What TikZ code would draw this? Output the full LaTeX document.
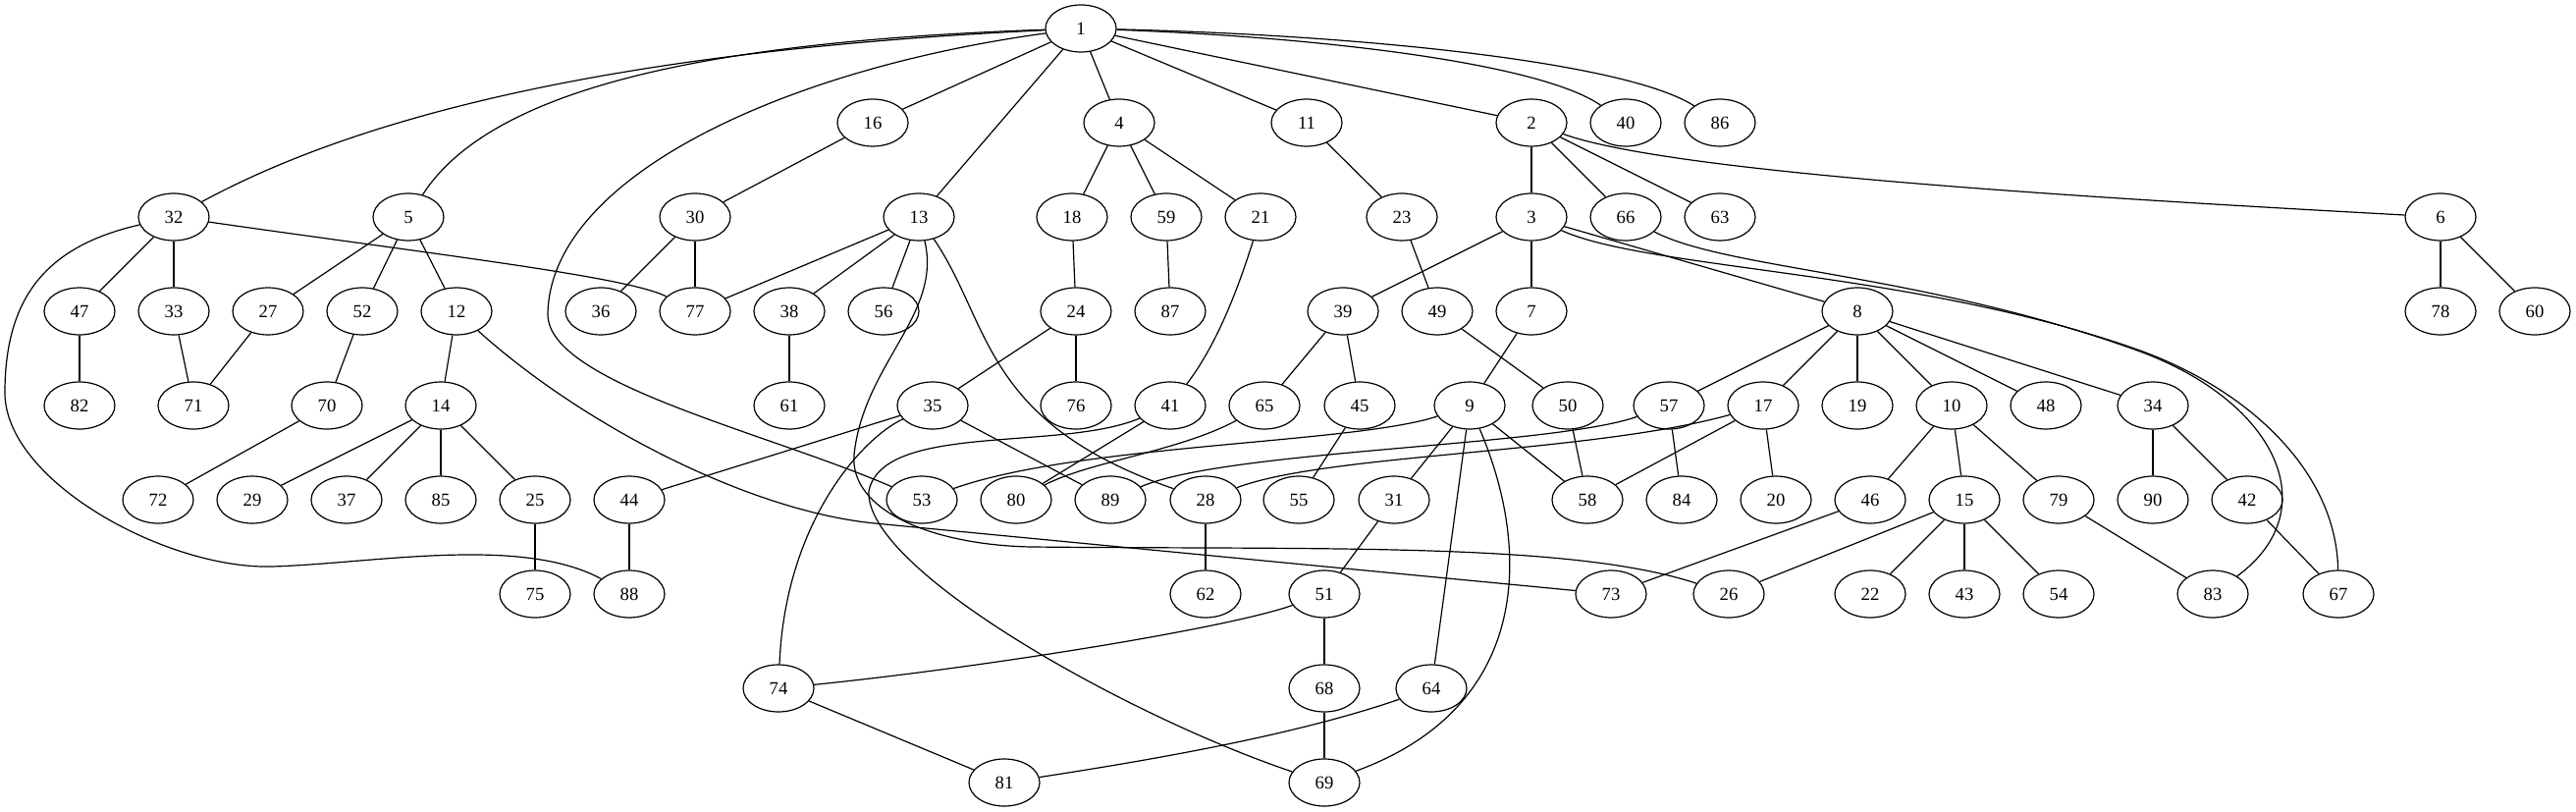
\documentclass[tikz,border=0pt]{standalone}
\usepackage{fontspec}
\setmainfont{Liberation Serif}
\usetikzlibrary{shapes.geometric}
\begin{document}
\begin{tikzpicture}[x=0.75pt,y=-0.75pt,
  gnode/.style={ellipse,draw,line width=0.9pt,minimum width=54pt,minimum height=36pt,inner sep=0pt,font=\fontsize{14}{16}\selectfont},
  edge/.style={line width=0.9pt}]
\useasboundingbox (0,0) rectangle (2624,827);
% row 0
\node[gnode] (n1) at (1101,29) {1};
% row 1
\node[gnode] (n16) at (889,125) {16};
\node[gnode] (n4) at (1140,125) {4};
\node[gnode] (n11) at (1331,125) {11};
\node[gnode] (n2) at (1560,125) {2};
\node[gnode] (n40) at (1656,125) {40};
\node[gnode] (n86) at (1752,125) {86};
% row 2
\node[gnode] (n32) at (177,221) {32};
\node[gnode] (n5) at (416,221) {5};
\node[gnode] (n30) at (708,221) {30};
\node[gnode] (n13) at (936,221) {13};
\node[gnode] (n18) at (1092,221) {18};
\node[gnode] (n59) at (1188,221) {59};
\node[gnode] (n21) at (1284,221) {21};
\node[gnode] (n23) at (1428,221) {23};
\node[gnode] (n3) at (1560,221) {3};
\node[gnode] (n66) at (1656,221) {66};
\node[gnode] (n63) at (1752,221) {63};
\node[gnode] (n6) at (2486,221) {6};
% row 3
\node[gnode] (n47) at (81,317) {47};
\node[gnode] (n33) at (177,317) {33};
\node[gnode] (n27) at (273,317) {27};
\node[gnode] (n52) at (369,317) {52};
\node[gnode] (n12) at (465,317) {12};
\node[gnode] (n36) at (612,317) {36};
\node[gnode] (n77) at (708,317) {77};
\node[gnode] (n38) at (804,317) {38};
\node[gnode] (n56) at (900,317) {56};
\node[gnode] (n24) at (1096,317) {24};
\node[gnode] (n87) at (1192,317) {87};
\node[gnode] (n39) at (1368,317) {39};
\node[gnode] (n49) at (1464,317) {49};
\node[gnode] (n7) at (1560,317) {7};
\node[gnode] (n8) at (1892,317) {8};
\node[gnode] (n78) at (2486,317) {78};
\node[gnode] (n60) at (2582,317) {60};
% row 4
\node[gnode] (n82) at (81,413) {82};
\node[gnode] (n71) at (197,413) {71};
\node[gnode] (n70) at (333,413) {70};
\node[gnode] (n14) at (449,413) {14};
\node[gnode] (n61) at (804,413) {61};
\node[gnode] (n35) at (950,413) {35};
\node[gnode] (n76) at (1096,413) {76};
\node[gnode] (n41) at (1192,413) {41};
\node[gnode] (n65) at (1288,413) {65};
\node[gnode] (n45) at (1385,413) {45};
\node[gnode] (n9) at (1497,413) {9};
\node[gnode] (n50) at (1597,413) {50};
\node[gnode] (n57) at (1700,413) {57};
\node[gnode] (n17) at (1796,413) {17};
\node[gnode] (n19) at (1892,413) {19};
\node[gnode] (n10) at (1988,413) {10};
\node[gnode] (n48) at (2084,413) {48};
\node[gnode] (n34) at (2193,413) {34};
% row 5
\node[gnode] (n72) at (161,509) {72};
\node[gnode] (n29) at (257,509) {29};
\node[gnode] (n37) at (353,509) {37};
\node[gnode] (n85) at (449,509) {85};
\node[gnode] (n25) at (545,509) {25};
\node[gnode] (n44) at (641,509) {44};
\node[gnode] (n53) at (939,509) {53};
\node[gnode] (n80) at (1035,509) {80};
\node[gnode] (n89) at (1131,509) {89};
\node[gnode] (n28) at (1228,509) {28};
\node[gnode] (n55) at (1323,509) {55};
\node[gnode] (n31) at (1420,509) {31};
\node[gnode] (n58) at (1617,509) {58};
\node[gnode] (n84) at (1713,509) {84};
\node[gnode] (n20) at (1809,509) {20};
\node[gnode] (n46) at (1905,509) {46};
\node[gnode] (n15) at (2001,509) {15};
\node[gnode] (n79) at (2097,509) {79};
\node[gnode] (n90) at (2193,509) {90};
\node[gnode] (n42) at (2289,509) {42};
% row 6
\node[gnode] (n75) at (545,605) {75};
\node[gnode] (n88) at (641,605) {88};
\node[gnode] (n62) at (1228,605) {62};
\node[gnode] (n51) at (1349,605) {51};
\node[gnode] (n73) at (1641,605) {73};
\node[gnode] (n26) at (1761,605) {26};
\node[gnode] (n22) at (1905,605) {22};
\node[gnode] (n43) at (2001,605) {43};
\node[gnode] (n54) at (2097,605) {54};
\node[gnode] (n83) at (2254,605) {83};
\node[gnode] (n67) at (2382,605) {67};
% row 7
\node[gnode] (n74) at (793,701) {74};
\node[gnode] (n68) at (1349,701) {68};
\node[gnode] (n64) at (1458,701) {64};
% row 8
\node[gnode] (n81) at (1023,797) {81};
\node[gnode] (n69) at (1349,797) {69};

% straight edges
\foreach \a/\b in {1/16,1/13,1/4,1/11,1/2,2/3,2/66,2/63,3/39,3/7,3/8,4/18,4/59,4/21,
  5/27,5/52,5/12,6/78,6/60,7/9,8/57,8/17,8/19,8/10,8/48,8/34,9/31,9/58,9/64,
  10/46,10/15,10/79,11/23,12/14,13/77,13/38,13/56,14/29,14/37,14/85,14/25,
  15/26,15/22,15/43,15/54,16/30,17/58,17/20,18/24,23/49,24/35,24/76,25/75,
  27/71,28/62,30/36,30/77,31/51,32/47,32/33,33/71,34/90,34/42,35/44,35/89,
  38/61,39/65,39/45,41/80,42/67,44/88,45/55,46/73,47/82,49/50,50/58,51/68,
  52/70,57/84,59/87,68/69,70/72,74/81,79/83}
  \draw[edge] (n\a) -- (n\b);

% curved edges
\draw[edge] (n1) .. controls (700,48) and (400,100) .. (n32);
\draw[edge] (n1) .. controls (720,42) and (500,90) .. (n5);
\draw[edge] (n1) .. controls (800,70) and (560,180) .. (558,320) .. controls (558,390) and (780,440) .. (n53);
\draw[edge] (n1) .. controls (1350,38) and (1570,65) .. (n40);
\draw[edge] (n1) .. controls (1400,36) and (1660,65) .. (n86);
\draw[edge] (n2) .. controls (1700,175) and (2100,200) .. (n6);
\draw[edge] (n3) .. controls (1680,275) and (1950,275) .. (2180,357) .. controls (2290,397) and (2380,480) .. (n67);
\draw[edge] (n66) .. controls (1760,275) and (1960,278) .. (2180,358) .. controls (2320,410) and (2370,520) .. (n83);
\draw[edge] (n32) .. controls (450,260) and (640,282) .. (n77);
\draw[edge] (n32) .. controls (50,250) and (5,300) .. (5,400) .. controls (5,490) and (170,580) .. (277,577) .. controls (380,574) and (530,545) .. (n88);
\draw[edge] (n12) .. controls (590,430) and (760,520) .. (891,533) -- (n73);
\draw[edge] (n13) .. controls (960,320) and (880,370) .. (870,463) .. controls (865,520) and (950,555) .. (1050,557) .. controls (1350,560) and (1600,552) .. (n26);
\draw[edge] (n13) .. controls (1010,330) and (1000,430) .. (n28);
\draw[edge] (n35) .. controls (880,445) and (800,530) .. (n74);
\draw[edge] (n41) .. controls (1080,460) and (900,430) .. (885,500) .. controls (880,580) and (1150,730) .. (n69);
\draw[edge] (n9) .. controls (1380,452) and (1100,452) .. (n53);
\draw[edge] (n57) .. controls (1580,455) and (1250,458) .. (n89);
\draw[edge] (n17) .. controls (1620,462) and (1350,462) .. (n28);
\draw[edge] (n65) .. controls (1200,460) and (1110,470) .. (n80);
\draw[edge] (n51) .. controls (1250,640) and (1000,680) .. (n74);
\draw[edge] (n64) .. controls (1330,745) and (1200,770) .. (n81);
\draw[edge] (n9) .. controls (1560,560) and (1560,720) .. (n69);
\draw[edge] (n21) .. controls (1250,330) and (1225,370) .. (n41);
\end{tikzpicture}
\end{document}
